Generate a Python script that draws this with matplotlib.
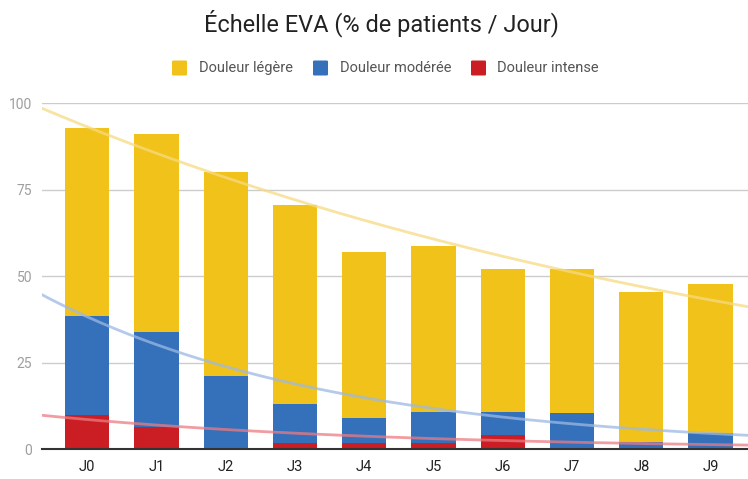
import matplotlib
matplotlib.use("Agg")
import matplotlib.pyplot as plt
import numpy as np

# ---- data ----
jours = ["J0", "J1", "J2", "J3", "J4", "J5", "J6", "J7", "J8", "J9"]
intense = [10.0, 6.5, 0.0, 1.8, 1.8, 1.8, 4.2, 0.0, 0.0, 0.0]
moderee = [28.4, 27.4, 21.3, 11.4, 7.2, 9.0, 6.6, 10.4, 2.2, 4.7]
legere = [54.6, 57.1, 58.9, 57.3, 48.0, 48.0, 41.3, 41.7, 43.2, 43.1]

series_names = ["Douleur légère", "Douleur modérée", "Douleur intense"]
colors = {"Douleur légère": "#F0C21A", "Douleur modérée": "#3571BA", "Douleur intense": "#CB1D24"}
trend_colors = {"Douleur légère": "#F6DA82", "Douleur modérée": "#9DB9E3", "Douleur intense": "#EC7B82"}

# exponential trend lines (value at J0, ratio per day)
trend_start = {"Douleur légère": 93.2, "Douleur modérée": 38.3, "Douleur intense": 8.6}
trend_ratio = {"Douleur légère": 0.918, "Douleur modérée": 0.790, "Douleur intense": 0.815}

plt.rcParams['font.family'] = ['Roboto', 'DejaVu Sans']

fig = plt.figure(figsize=(7.48, 4.79), dpi=100)
ax = fig.add_axes([41.7 / 748, 29.7 / 479, 1 - 41.7 / 748, 346 / 479])

x = np.arange(len(jours))
w = 0.64
b1 = np.array(intense)
b2 = b1 + np.array(moderee)
ax.bar(x, intense, w, color=colors["Douleur intense"], zorder=2)
ax.bar(x, moderee, w, bottom=b1, color=colors["Douleur modérée"], zorder=2)
ax.bar(x, legere, w, bottom=b2, color=colors["Douleur légère"], zorder=2)

xs = np.linspace(-0.7, 9.6, 200)
for name in ["Douleur légère", "Douleur modérée", "Douleur intense"]:
    ys = trend_start[name] * trend_ratio[name] ** xs
    ax.plot(xs, ys, color=trend_colors[name], lw=2.0, alpha=0.75, zorder=3,
            solid_capstyle='butt')

ax.set_xlim(-0.657, 9.54)
ax.set_ylim(0, 100)
ax.set_yticks([0, 25, 50, 75, 100])
ax.set_xticks(x)
ax.set_xticklabels(jours)
ax.grid(axis='y', color='#CCCCCC', lw=1.0, zorder=0)
ax.set_axisbelow(True)
for s in ["top", "right", "left"]:
    ax.spines[s].set_visible(False)
ax.spines["bottom"].set_color("#333333")
ax.spines["bottom"].set_linewidth(1.5)
ax.spines["bottom"].set_zorder(4)
ax.tick_params(axis='y', length=0, pad=7, labelsize=10, labelcolor='#9E9E9E')
ax.tick_params(axis='x', length=0, pad=8, labelsize=10.5, labelcolor='#222222')

fig.text(381 / 748, 1 - 23 / 479, "Échelle EVA (% de patients / Jour)", ha='center', va='center',
         fontsize=16.9, color='#222222')

# legend
leg_y = 1 - 68 / 479
items = [(172, 199), (313, 340), (471, 497)]
for name, (sx, tx) in zip(series_names, items):
    fig.patches.append(matplotlib.patches.FancyBboxPatch(
        (sx / 748, leg_y - 7.5 / 479), 15 / 748, 15 / 479,
        boxstyle="round,pad=0,rounding_size=0.002", transform=fig.transFigure,
        facecolor=colors[name], edgecolor='none'))
    fig.text(tx / 748, leg_y, name, ha='left', va='center', fontsize=10.5, color='#555555')

fig.savefig("out.png", dpi=100)
